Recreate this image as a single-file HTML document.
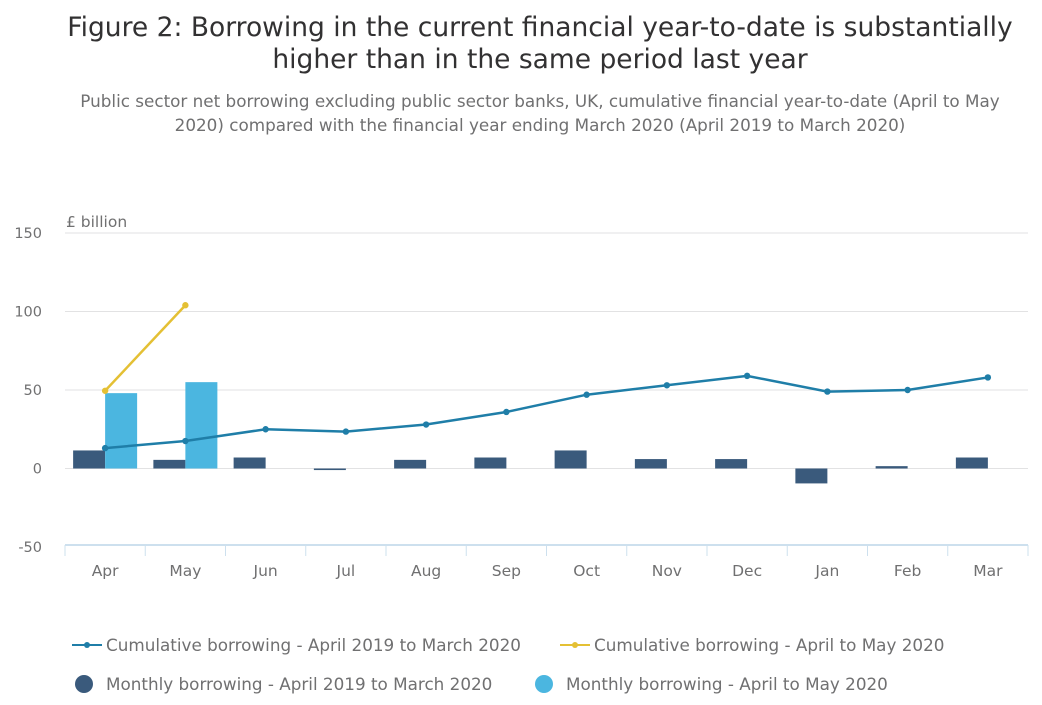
<!DOCTYPE html>
<html><head><meta charset="utf-8"><style>
body{margin:0;background:#fff;font-family:"DejaVu Sans","Liberation Sans",sans-serif;}
#wrap{position:relative;width:1042px;height:705px;overflow:hidden;}
.t{position:absolute;left:0;width:1080px;text-align:center;color:#323132;font-size:26.5px;line-height:32px;}
.s{position:absolute;left:0;width:1080px;text-align:center;color:#707071;font-size:16.8px;line-height:24px;}
svg text{font-family:"DejaVu Sans","Liberation Sans",sans-serif;}
</style></head><body>
<div id="wrap">
<div class="t" style="top:12px">Figure 2: Borrowing in the current financial year-to-date is substantially<br>higher than in the same period last year</div>
<div class="s" style="top:89px">Public sector net borrowing excluding public sector banks, UK, cumulative financial year-to-date (April to May<br>2020) compared with the financial year ending March 2020 (April 2019 to March 2020)</div>
<svg id="chart" width="1042" height="705" style="position:absolute;left:0;top:0"></svg>
</div>
<script>
const categories=["Apr","May","Jun","Jul","Aug","Sep","Oct","Nov","Dec","Jan","Feb","Mar"];
const monthly2019=[11.5,5.5,7,-1,5.5,7,11.5,6,6,-9.5,1.5,7];
const monthly2020=[48,55];
const cumulative2019=[13,17.5,25,23.5,28,36,47,53,59,49,50,58];
const cumulative2020=[49.5,104];
const yTicks=[150,100,50,0,-50];
const ns="http://www.w3.org/2000/svg";
const svg=document.getElementById('chart');
const L=65,R=1028,cw=(R-L)/12,bw=32;
const y=v=>468.5-v*1.57;
const xc=i=>L+cw*(i+0.5);
function mk(t,a,txt){const e=document.createElementNS(ns,t);for(const k in a)e.setAttribute(k,a[k]);if(txt!=null)e.textContent=txt;svg.appendChild(e);return e;}
yTicks.forEach(v=>{
 if(v>-50){const g=mk('line',{x1:L,x2:R,y1:y(v),y2:y(v),stroke:'#e2e2e3','stroke-width':1});
 
 }
 const t=mk('text',{x:42,y:y(v)+5,'text-anchor':'end','font-size':14.5,fill:'#707071'},v);
 
 
});
const yt=mk('text',{x:66,y:227,'font-size':15.5,fill:'#707071'},'£ billion');


const ax=mk('line',{x1:L,x2:R,y1:545,y2:545,stroke:'#cde0ee','stroke-width':2});


for(let i=0;i<=12;i++){const tk=mk('line',{x1:L+cw*i,x2:L+cw*i,y1:545,y2:556,stroke:'#cde0ee','stroke-width':1});
 
 }
categories.forEach((c,i)=>{const t=mk('text',{x:xc(i),y:576,'text-anchor':'middle','font-size':15.5,fill:'#707071'},c);
 
 });
monthly2019.forEach((v,i)=>{const r=mk('rect',{x:xc(i)-bw,y:Math.min(y(v),y(0)),width:bw,height:Math.abs(y(v)-y(0)),fill:'#3a5a7c'});
 
 });
monthly2020.forEach((v,i)=>{const r=mk('rect',{x:xc(i),y:Math.min(y(v),y(0)),width:bw,height:Math.abs(y(v)-y(0)),fill:'#4bb6e0'});
 
 });
function line(vals,col,name){
 const p=mk('polyline',{points:vals.map((v,i)=>xc(i)+','+y(v)).join(' '),fill:'none',stroke:col,'stroke-width':2.5});
 
 
 vals.forEach((v,i)=>{const c=mk('circle',{cx:xc(i),cy:y(v),r:3.2,fill:col});
  
  });
}
line(cumulative2019,'#1f7ea8','line-cumulative-2019');
line(cumulative2020,'#e4c034','line-cumulative-2020');
function leg(x,yy,type,col,label,name){
 const g=document.createElementNS(ns,'g');svg.appendChild(g);
 
 
 if(type==='line'){const l=document.createElementNS(ns,'line');[['x1',x],['x2',x+30],['y1',yy],['y2',yy],['stroke',col],['stroke-width',2]].forEach(a=>l.setAttribute(a[0],a[1]));g.appendChild(l);
  const c=document.createElementNS(ns,'circle');[['cx',x+15],['cy',yy],['r',3],['fill',col]].forEach(a=>c.setAttribute(a[0],a[1]));g.appendChild(c);}
 else{const c=document.createElementNS(ns,'circle');[['cx',x+10],['cy',yy],['r',9],['fill',col]].forEach(a=>c.setAttribute(a[0],a[1]));g.appendChild(c);}
 const t=document.createElementNS(ns,'text');[['x',x+(type==='line'?34:32)],['y',yy+6],['font-size',16.8],['fill','#707071']].forEach(a=>t.setAttribute(a[0],a[1]));t.textContent=label;g.appendChild(t);
}
leg(72,645,'line','#1f7ea8','Cumulative borrowing - April 2019 to March 2020','legend-cumulative-2019');
leg(560,645,'line','#e4c034','Cumulative borrowing - April to May 2020','legend-cumulative-2020');
leg(74,684,'dot','#3a5a7c','Monthly borrowing - April 2019 to March 2020','legend-monthly-2019');
leg(534,684,'dot','#4bb6e0','Monthly borrowing - April to May 2020','legend-monthly-2020');
</script>
</body></html>
